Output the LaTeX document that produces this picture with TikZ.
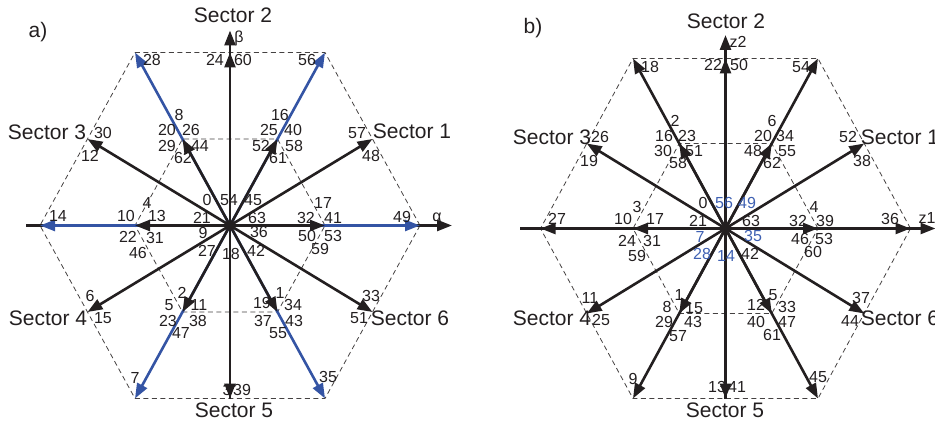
\documentclass[tikz,border=0pt]{standalone}
\usepackage{fontspec}
\setmainfont{Liberation Sans}
\usepackage{xcolor}
\usetikzlibrary{arrows.meta}

\definecolor{ink}{RGB}{35,31,32}
\definecolor{vecblue}{RGB}{52,84,164}
\definecolor{numblue}{RGB}{62,96,178}
\tikzset{
    vec/.style={line width=2.6pt, draw=ink, -{Triangle[length=15pt,width=11pt]}},
    bluevec/.style={vec, draw=vecblue},
    axisline/.style={line width=2.6pt, draw=ink, -{Triangle[length=15pt,width=11pt]}},
    hexline/.style={draw=ink!85, line width=0.8pt, dash pattern=on 5pt off 3.5pt},
    num/.style={inner sep=0pt, text=ink, font=\fontsize{16}{16}\selectfont},
    bluenum/.style={num, text=numblue},
    sect/.style={inner sep=0pt, text=ink, font=\fontsize{21}{21}\selectfont}
}

\begin{document}
\begin{tikzpicture}[x=1pt, y=-1pt]
    \useasboundingbox (0,0) rectangle (935,425);

    \begin{scope}[shift={(230,225.5)}]
        \coordinate (aO) at (0,0);
        \foreach \a in {0,60,...,300} {
            \coordinate (aV\a) at ({190*cos(\a)},{-173*sin(\a)/sin(60)});
            \coordinate (aI\a) at ({95*cos(\a)},{-86.5*sin(\a)/sin(60)});
        }
        \foreach \a in {30,90,...,330}
            \coordinate (aM\a) at ({142.5*cos(\a)/cos(30)},{-173*sin(\a)});
        \coordinate (aXl) at (-204,0);
        \coordinate (aXr) at (222,0);
        \coordinate (aYt) at (0,-195);

        \draw[hexline] (aV0) -- (aV60) -- (aV120) -- (aV180) -- (aV240) -- (aV300) -- cycle;
        \draw[hexline] (aI0) -- (aI60) -- (aI120) -- (aI180) -- (aI240) -- (aI300) -- cycle;
        \draw[axisline] (aXl) -- (aXr);
        \draw[axisline] (aM270) -- (aYt);
        \foreach \a in {0,60,...,300}
            \draw[bluevec] (aO) -- (aV\a);
        \foreach \a in {0,60,...,300}
            \draw[vec] (aO) -- (aI\a);
        \foreach \a in {30,90,...,330}
            \draw[vec] (aO) -- (aM\a);
    \end{scope}

    \begin{scope}[shift={(725.5,228.5)}]
        \coordinate (bO) at (0,0);
        \foreach \a in {0,60,...,300} {
            \coordinate (bV\a) at ({185*cos(\a)},{-170*sin(\a)/sin(60)});
            \coordinate (bI\a) at ({92.5*cos(\a)},{-85*sin(\a)/sin(60)});
        }
        \foreach \a in {30,90,...,330}
            \coordinate (bM\a) at ({138.75*cos(\a)/cos(30)},{-170*sin(\a)});
        \coordinate (bXl) at (-205.5,0);
        \coordinate (bXr) at (210,0);
        \coordinate (bYt) at (0,-193.5);

        \draw[hexline] (bV0) -- (bV60) -- (bV120) -- (bV180) -- (bV240) -- (bV300) -- cycle;
        \draw[hexline] (bI0) -- (bI60) -- (bI120) -- (bI180) -- (bI240) -- (bI300) -- cycle;
        \draw[axisline] (bXl) -- (bXr);
        \draw[axisline] (bM270) -- (bYt);
        \foreach \a in {0,60,...,300}
            \draw[vec] (bO) -- (bV\a);
        \foreach \a in {0,60,...,300}
            \draw[vec] (bO) -- (bI\a);
        \foreach \a in {30,90,...,330}
            \draw[vec] (bO) -- (bM\a);
    \end{scope}

    \node[sect] (aTitle) at (38,32) {a)};
    \node[sect] (bTitle) at (533,28) {b)};
    \node[num] (alpha) at (437,217) {α};
    \node[num] (beta) at (239,38) {β};
    \node[num] (zone) at (927,218) {z1};
    \node[num] (ztwo) at (738,42) {z2};

    \node[sect] (aS1) at (412,131) {Sector 1};
    \node[sect] (aS2) at (233,15) {Sector 2};
    \node[sect] (aS3) at (47,132) {Sector 3};
    \node[sect] (aS4) at (48,318) {Sector 4};
    \node[sect] (aS5) at (234,410) {Sector 5};
    \node[sect] (aS6) at (410,318) {Sector 6};
    \node[sect] (bS1) at (900,137) {Sector 1};
    \node[sect] (bS2) at (726,21) {Sector 2};
    \node[sect] (bS3) at (552,137) {Sector 3};
    \node[sect] (bS4) at (552,318) {Sector 4};
    \node[sect] (bS5) at (725,410) {Sector 5};
    \node[sect] (bS6) at (900,318) {Sector 6};

    \foreach \t/\x/\y in {28/152/60, 24/215/60, 60/243/60, 56/307/60,
        8/179/115, 20/167/130, 26/191/130, 29/167/146, 44/200/146, 62/183/158,
        16/280/115, 25/269/130, 40/293/130, 52/261/146, 58/294/146, 61/278/158,
        30/103/133, 12/90/156, 57/357/133, 48/371/156,
        0/207/200, 54/229/200, 45/253/200, 4/147/203, 17/323/203,
        14/58/216, 10/126/216, 13/157/216, 21/202/218, 63/257/218,
        32/306/218, 41/333/218, 49/402/217,
        22/128/237, 31/155/238, 9/203/233, 36/259/232, 50/307/236, 53/333/236,
        46/138/253, 27/207/251, 18/231/254, 42/256/251, 59/320/249,
        6/90/296, 2/182/293, 5/169/305, 11/199/305, 19/262/303, 1/280/293,
        34/293/305, 33/371/296, 15/103/318, 23/168/321, 38/198/321,
        37/263/321, 43/294/321, 51/359/318, 47/181/333, 55/278/333,
        7/135/378, 35/328/377, 3/227/390, 39/242/390}
        \node[num] (a\t) at (\x,\y) {\t};

    \foreach \t/\x/\y in {18/650/67, 22/713/65, 50/739/65, 54/801/67,
        2/675/121, 16/664/136, 23/687/136, 30/663/151, 51/694/151, 58/678/163,
        6/772/121, 20/763/136, 34/785/136, 48/753/151, 55/787/151, 62/772/163,
        26/600/137, 19/589/161, 52/848/137, 38/862/161,
        0/703/203, 3/637/207, 4/814/207,
        27/557/219, 10/623/219, 17/655/219, 21/698/221, 63/751/221,
        32/798/221, 39/825/221, 36/890/219,
        24/627/241, 31/652/241, 46/800/239, 53/824/239,
        59/637/256, 42/750/254, 60/813/252,
        11/590/298, 1/679/295, 8/667/307, 15/694/308, 12/756/305,
        5/773/295, 33/787/307, 37/861/298,
        25/601/320, 29/664/322, 43/693/322, 40/756/322, 47/787/322, 44/850/321,
        57/678/336, 61/772/335, 9/633/379, 45/818/377, 13/717/387, 41/737/387}
        \node[num] (b\t) at (\x,\y) {\t};

    \foreach \t/\x/\y in {56/724/203, 49/747/203, 7/700/237,
        35/753/236, 28/702/254, 14/726/256}
        \node[bluenum] (b\t) at (\x,\y) {\t};
\end{tikzpicture}
\end{document}
